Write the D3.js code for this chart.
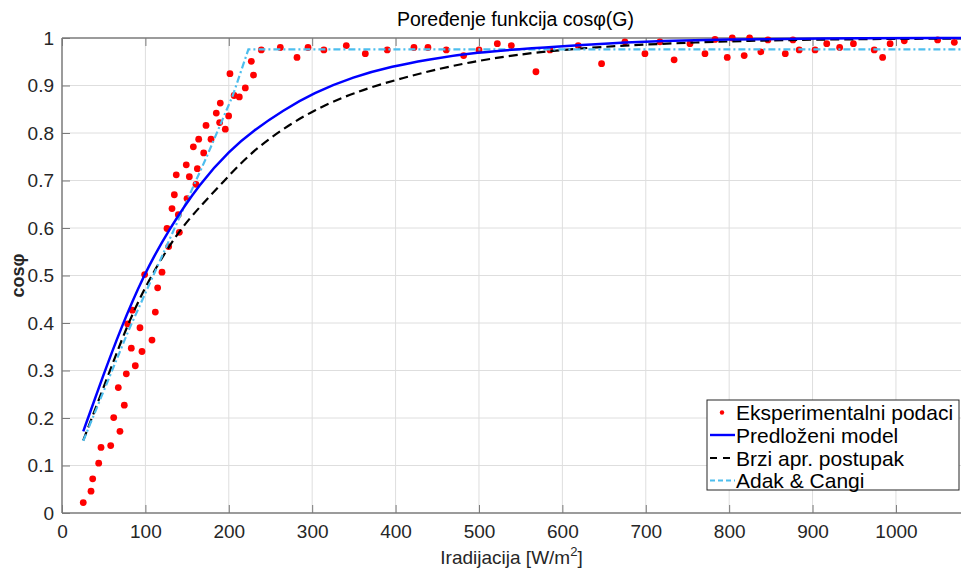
<!DOCTYPE html>
<html><head><meta charset="utf-8">
<script src="https://cdn.jsdelivr.net/npm/d3@7"></script>
<style>body{margin:0;background:#fff}svg{display:block}</style>
</head><body><svg id="c" width="961" height="569"></svg>
<script>
// ---- data ----
const measX = [25.5,34.8,36.8,44,46.8,58.4,62,67.5,69.5,74.7,77.1,78.8,83.1,84.3,87.9,93.5,95.9,99.1,107.9,111.9,114.7,119.9,125.9,127.9,131.9,134.7,137,139.5,140.7,149,149.9,152.7,157.5,160.7,162.3,163.9,169.9,172.7,178.7,185,189,189.8,195.8,199.8,201.4,206.4,212.6,219.8,227,229.6,239,261.8,281.8,295,314,340.9,363.7,390,422,438.8,460.8,481.6,500,522,538.8,568.3,585.1,619,647,675,699,717,734,753,771,783,797.7,803.7,818,824.5,838,846.5,867.3,876.5,884,903,917,932.5,949,974,984,993,1010,1050,1070];
const measY = [0.022,0.046,0.072,0.105,0.138,0.142,0.201,0.264,0.172,0.227,0.293,0.398,0.347,0.427,0.31,0.39,0.34,0.502,0.364,0.423,0.474,0.507,0.599,0.561,0.641,0.670,0.712,0.628,0.591,0.733,0.662,0.708,0.771,0.692,0.725,0.787,0.758,0.816,0.787,0.842,0.822,0.863,0.808,0.836,0.925,0.879,0.876,0.895,0.951,0.922,0.975,0.980,0.959,0.980,0.975,0.984,0.967,0.975,0.980,0.980,0.975,0.963,0.975,0.988,0.984,0.929,0.975,0.984,0.946,0.992,0.967,0.992,0.954,0.988,0.967,0.997,0.959,1.0,0.963,1.0,0.971,0.996,0.967,0.996,0.975,0.975,0.988,0.980,0.988,0.975,0.959,0.988,0.994,0.996,0.991];

const modelX = [25.5,49.5,69.5,97.5,128,165.5,201.4,229.4,265.4,301.3,349.3,397.3,437.3,489,597,700,800,900,1078];
const modelY = [0.172,0.29,0.384,0.50,0.597,0.695,0.764,0.805,0.848,0.884,0.9185,0.941,0.954,0.969,0.983,0.993,0.997,0.999,1.0];

const fastX = [25.5,57.6,77.5,101.5,137.5,165.5,193.4,225.4,261.4,301.3,349.3,405.3,485.2,597,765,900,1078];
const fastY = [0.153,0.300,0.392,0.484,0.589,0.645,0.6975,0.757,0.805,0.848,0.885,0.915,0.950,0.978,0.992,0.997,0.999];

const adakX = [25.5,80,129.5,173.5,205,223.5,1078];
const adakY = [0.152,0.385,0.578,0.750,0.880,0.976,0.976];

const xTicks = [0,100,200,300,400,500,600,700,800,900,1000];
const yTicks = [0,0.1,0.2,0.3,0.4,0.5,0.6,0.7,0.8,0.9,1];
const yTickLabels = ["0","0.1","0.2","0.3","0.4","0.5","0.6","0.7","0.8","0.9","1"];
const legendLabels = ["Eksperimentalni podaci","Predloženi model","Brzi apr. postupak","Adak & Cangi"];

// ---- drawing ----
const svg = d3.select("#c");
const L = 62, R = 961, T = 38, B = 513;
const x = d3.scaleLinear().domain([0,1078]).range([L,R]);
const y = d3.scaleLinear().domain([0,1]).range([B,T]);
const font = "'Liberation Sans', Arial, Helvetica, sans-serif";

svg.append("rect").attr("x",0).attr("y",0).attr("width",961).attr("height",569).attr("fill","#fff");

svg.append("defs").append("clipPath").attr("id","clip")
  .append("rect").attr("x",L).attr("y",T-6).attr("width",R-L).attr("height",B-T+6);

// grid
const grid = svg.append("g");
grid.selectAll(".gx").data(xTicks.slice(1)).join("line")
  .attr("x1",d=>x(d)).attr("x2",d=>x(d)).attr("y1",T).attr("y2",B)
  .attr("stroke","#dedede").attr("stroke-width",1);
grid.selectAll(".gy").data(yTicks.slice(1,-1)).join("line")
  .attr("x1",L).attr("x2",R).attr("y1",d=>y(d)).attr("y2",d=>y(d))
  .attr("stroke","#dedede").attr("stroke-width",1);

// axes
const axisColor = "#7a7a7a";
const xAxis = svg.append("g").attr("transform",`translate(0,${B})`)
  .call(d3.axisBottom(x).tickValues(xTicks).tickSize(-8).tickPadding(12).tickFormat(d3.format("d")));
const xAxisTop = svg.append("g").attr("transform",`translate(0,${T})`)
  .call(d3.axisTop(x).tickValues(xTicks).tickSize(-8).tickFormat(""));
const yAxis = svg.append("g").attr("transform",`translate(${L},0)`)
  .call(d3.axisLeft(y).tickValues(yTicks).tickSize(-8).tickPadding(8).tickFormat((d,i)=>yTickLabels[i]));
[xAxis,xAxisTop,yAxis].forEach(g=>{
  g.select(".domain").attr("stroke",axisColor).attr("stroke-width",1.5);
  g.selectAll(".tick line").attr("stroke",axisColor).attr("stroke-width",1);
  g.selectAll(".tick text").attr("fill","#262626").style("font-family",font).style("font-size","19px");
});
xAxis.select(".domain").attr("d",`M${L},0H${R}`);
xAxisTop.select(".domain").attr("d",`M${L},0H${R}`);
yAxis.select(".domain").attr("d",`M0,${B}V${T}`);

const plot = svg.append("g").attr("clip-path","url(#clip)");

// scatter
plot.selectAll(".pt").data(measX.map((v,i)=>[v,measY[i]])).join("circle")
  .attr("cx",d=>x(d[0])).attr("cy",d=>y(d[1])).attr("r",3.4).attr("fill","#ff0000");

const line = d3.line().x(d=>x(d[0])).y(d=>y(d[1]));
const smooth = d3.line().x(d=>x(d[0])).y(d=>y(d[1])).curve(d3.curveBasis);

plot.append("path").datum(fastX.map((v,i)=>[v,fastY[i]]))
  .attr("d",smooth).attr("fill","none").attr("stroke","#000").attr("stroke-width",2.2)
  .attr("stroke-dasharray","9,5");
plot.append("path").datum(adakX.map((v,i)=>[v,adakY[i]]))
  .attr("d",line).attr("fill","none").attr("stroke","#4dbeee").attr("stroke-width",2.2)
  .attr("stroke-dasharray","7,3,2,3");
plot.append("path").datum(modelX.map((v,i)=>[v,modelY[i]]))
  .attr("d",smooth).attr("fill","none").attr("stroke","#0000ff").attr("stroke-width",2.5);

// title and labels
svg.append("text").attr("x",(L+R)/2 + 4).attr("y",26).attr("text-anchor","middle")
  .style("font-family",font).style("font-size","19.5px").attr("fill","#000")
  .text("Poređenje funkcija cosφ(G)");
svg.append("text").attr("x",(L+R)/2).attr("y",564).attr("text-anchor","middle")
  .style("font-family",font).style("font-size","19px").attr("fill","#262626")
  .html("Iradijacija [W/m<tspan dy='-8' font-size='13px'>2</tspan><tspan dy='8'>]</tspan>");
svg.append("text").attr("transform",`translate(24,${(T+B)/2}) rotate(-90)`).attr("text-anchor","middle")
  .style("font-family",font).style("font-size","18px").style("font-weight","bold").attr("fill","#262626")
  .text("cosφ");

// legend
const lg = svg.append("g");
lg.append("rect").attr("x",707).attr("y",400).attr("width",252).attr("height",90)
  .attr("fill","#fff").attr("stroke","#262626").attr("stroke-width",1);
const rowY = [412.5,435,458,480.5];
lg.selectAll("text").data(legendLabels).join("text")
  .attr("x",736).attr("y",(d,i)=>rowY[i]+7.5)
  .style("font-family",font).style("font-size","21px").attr("fill","#000").text(d=>d);
lg.append("circle").attr("cx",722).attr("cy",rowY[0]).attr("r",2.2).attr("fill","#ff0000");
lg.append("line").attr("x1",710).attr("x2",735).attr("y1",rowY[1]).attr("y2",rowY[1])
  .attr("stroke","#0000ff").attr("stroke-width",2.4);
lg.append("line").attr("x1",710).attr("x2",735).attr("y1",rowY[2]).attr("y2",rowY[2])
  .attr("stroke","#000").attr("stroke-width",2.2).attr("stroke-dasharray","7,6");
lg.append("line").attr("x1",710).attr("x2",735).attr("y1",rowY[3]).attr("y2",rowY[3])
  .attr("stroke","#4dbeee").attr("stroke-width",2.2).attr("stroke-dasharray","5,3");
</script>
</body></html>
